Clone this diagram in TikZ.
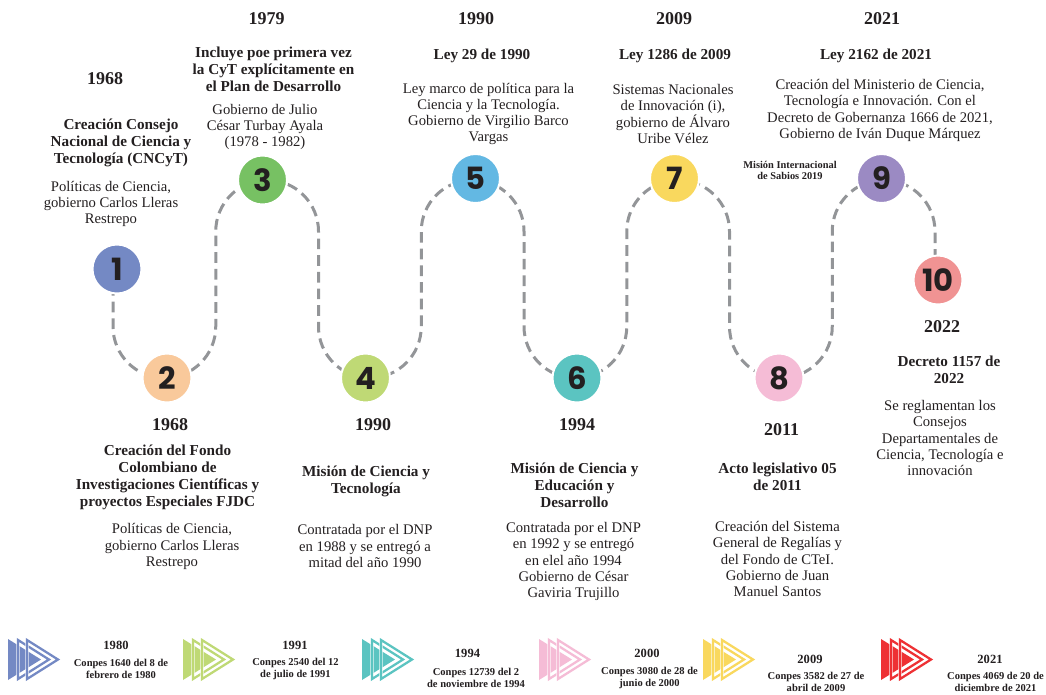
\documentclass[tikz,border=0pt]{standalone}
\usepackage{fontspec}
\setmainfont{Liberation Serif}
\newfontfamily\numfont{Poppins}
\usetikzlibrary{backgrounds}
\definecolor{txt}{HTML}{231F20}
\definecolor{dashc}{HTML}{939598}
\definecolor{c1}{HTML}{7489C4}
\definecolor{c2}{HTML}{F9C99B}
\definecolor{c3}{HTML}{77C163}
\definecolor{c4}{HTML}{BFD975}
\definecolor{c5}{HTML}{63B8E3}
\definecolor{c6}{HTML}{5BC4C1}
\definecolor{c7}{HTML}{F9D85E}
\definecolor{c8}{HTML}{F5BCD6}
\definecolor{c9}{HTML}{9B8AC3}
\definecolor{c10}{HTML}{F09393}
\definecolor{cred}{HTML}{EE3134}
\newcommand{\mytri}[2]{%
  \fill[#2] (#1,-639) -- (#1+33,-659.5) -- (#1,-680) -- cycle;
  \foreach \o/\t in {10/41,19/50}{%
    \draw[white, line width=2.6pt] (#1+\o,-640) -- (#1+\t,-659.5) -- (#1+\o,-679) -- cycle;
    \draw[#2, line width=1.7pt] (#1+\o,-640) -- (#1+\t,-659.5) -- (#1+\o,-679) -- cycle;
  }%
}
\begin{document}
\begin{tikzpicture}[x=0.75pt,y=0.75pt,
  every node/.style={text=txt, inner sep=0pt},
  num/.style={circle, minimum size=36.75pt, draw=white, line width=1.5pt,
    font=\numfont\fontsize{23}{23}\selectfont\bfseries},
  year/.style={font=\fontsize{13.5}{16}\selectfont\bfseries},
  ttl/.style={align=center, font=\fontsize{11.4}{12.75}\selectfont\bfseries},
  body/.style={align=center, font=\fontsize{11}{12.2}\selectfont},
  small/.style={align=center, font=\fontsize{7.8}{8.4}\selectfont\bfseries},
  byear/.style={font=\fontsize{9.4}{11}\selectfont\bfseries},
  bnote/.style={align=center, font=\fontsize{7.9}{9}\selectfont\bfseries},
  snake/.style={dashc, line width=2.25pt, dash pattern=on 8pt off 4.5pt}]
\useasboundingbox (0,0) rectangle (1046,-694);

% circles
\node[num, fill=c1] (n1) at (117,-269) {1};
\node[num, fill=c2] (n2) at (167,-378) {2};
\node[num, fill=c3] (n3) at (262.5,-180) {3};
\node[num, fill=c4] (n4) at (365.5,-378) {4};
\node[num, fill=c5] (n5) at (475.5,-178.5) {5};
\node[num, fill=c6] (n6) at (577,-378) {6};
\node[num, fill=c7] (n7) at (674.5,-178.5) {7};
\node[num, fill=c8] (n8) at (779,-378) {8};
\node[num, fill=c9] (n9) at (881.5,-178.5) {9};
\node[num, fill=c10] (n10) at (938,-280) {10};

\coordinate (s) at (113,-285);
\coordinate (e) at (935,-265);
\begin{scope}[on background layer]
\draw[snake] (s) -- (113,-326.6)
  arc[start angle=180, end angle=360, radius=51.375] -- (215.75,-231.4)
  arc[start angle=180, end angle=0, radius=51.375] -- (318.5,-326.6)
  arc[start angle=180, end angle=360, radius=51.375] -- (421.25,-231.4)
  arc[start angle=180, end angle=0, radius=51.375] -- (524,-326.6)
  arc[start angle=180, end angle=360, radius=51.375] -- (626.75,-231.4)
  arc[start angle=180, end angle=0, radius=51.375] -- (729.5,-326.6)
  arc[start angle=180, end angle=360, radius=51.375] -- (832.25,-231.4)
  arc[start angle=180, end angle=0, radius=51.375] -- (e);
\end{scope}

% item 1
\node[year] (y1) at (105,-79) {1968};
\node[ttl] (t1) at (121,-143) {Creación Consejo\\Nacional de Ciencia y\\Tecnología (CNCyT)};
\node[body] (b1) at (111,-204) {Políticas de Ciencia,\\gobierno Carlos Lleras\\Restrepo};
% item 3
\node[year] (y3) at (266.5,-19) {1979};
\node[ttl] (t3) at (273.5,-69) {Incluye poe primera vez\\la CyT explícitamente en\\el Plan de Desarrollo};
\node[body] (b3) at (265,-127) {Gobierno de Julio\\César Turbay Ayala\\(1978 - 1982)};
% item 5
\node[year] (y5) at (476,-19) {1990};
\node[ttl] (t5) at (482,-56) {Ley 29 de 1990};
\node[body] (b5) at (488.5,-114) {Ley marco de política para la\\Ciencia y la Tecnología.\\Gobierno de Virgilio Barco\\Vargas};
% item 7
\node[year] (y7) at (674,-19) {2009};
\node[ttl] (t7) at (675,-56) {Ley 1286 de 2009};
\node[body] (b7) at (673,-114) {Sistemas Nacionales\\de Innovación (i),\\gobierno de Álvaro\\Uribe Vélez};
% item 9
\node[year] (y9) at (882,-19) {2021};
\node[ttl] (t9) at (876,-56) {Ley 2162 de 2021};
\node[body] (b9) at (880,-110.5) {Creación del Ministerio de Ciencia,\\Tecnología e Innovación. Con el\\Decreto de Gobernanza 1666 de 2021,\\Gobierno de Iván Duque Márquez};
\node[small] (m9) at (790,-170.5) {Misión Internacional\\de Sabios 2019};
% item 10
\node[year] (y10) at (942,-327) {2022};
\node[ttl] (t10) at (949,-370) {Decreto 1157 de\\2022};
\node[body] (b10) at (940,-438) {Se reglamentan los\\Consejos\\Departamentales de\\Ciencia, Tecnología e\\innovación};
% item 2
\node[year] (y2) at (170,-425) {1968};
\node[ttl] (t2) at (167.5,-477.5) {Creación del Fondo\\Colombiano de\\Investigaciones Científicas y\\proyectos Especiales FJDC};
\node[body] (b2) at (172,-546.5) {Políticas de Ciencia,\\gobierno Carlos Lleras\\Restrepo};
% item 4
\node[year] (y4) at (373,-425) {1990};
\node[ttl] (t4) at (366,-481.5) {Misión de Ciencia y\\Tecnología};
\node[body] (b4) at (365,-546) {Contratada por el DNP\\en 1988 y se entregó a\\mitad del año 1990};
% item 6
\node[year] (y6) at (577,-425) {1994};
\node[ttl] (t6) at (574.5,-485.5) {Misión de Ciencia y\\Educación y\\Desarrollo};
\node[body] (b6) at (573.5,-561.5) {Contratada por el DNP\\en 1992 y se entregó\\en elel año 1994\\Gobierno de César\\Gaviria Trujillo};
% item 8
\node[year] (y8) at (781.5,-430) {2011};
\node[ttl] (t8) at (777.5,-477) {Acto legislativo 05\\de 2011};
\node[body] (b8) at (777.5,-559) {Creación del Sistema\\General de Regalías y\\del Fondo de CTeI.\\Gobierno de Juan\\Manuel Santos};

% bottom row
\mytri{8}{c1}
\mytri{183}{c4}
\mytri{362}{c6}
\mytri{539}{c8}
\mytri{703}{c7}
\mytri{881}{cred}
\node[byear] (p1) at (116,-645) {1980};
\node[bnote] (q1) at (121,-668.5) {Conpes 1640 del 8 de\\febrero de 1980};
\node[byear] (p2) at (295,-645) {1991};
\node[bnote] (q2) at (295.5,-668.5) {Conpes 2540 del 12\\de julio de 1991};
\node[byear] (p3) at (467.5,-653) {1994};
\node[bnote] (q3) at (476,-677.5) {Conpes 12739 del 2\\de noviembre de 1994};
\node[byear] (p4) at (647,-653) {2000};
\node[bnote] (q4) at (649.5,-677.5) {Conpes 3080 de 28 de\\junio de 2000};
\node[byear] (p5) at (810,-659) {2009};
\node[bnote] (q5) at (816,-682) {Conpes 3582 de 27 de\\abril de 2009};
\node[byear] (p6) at (990,-659) {2021};
\node[bnote] (q6) at (995.5,-682) {Conpes 4069 de 20 de\\diciembre de 2021};
\end{tikzpicture}
\end{document}
